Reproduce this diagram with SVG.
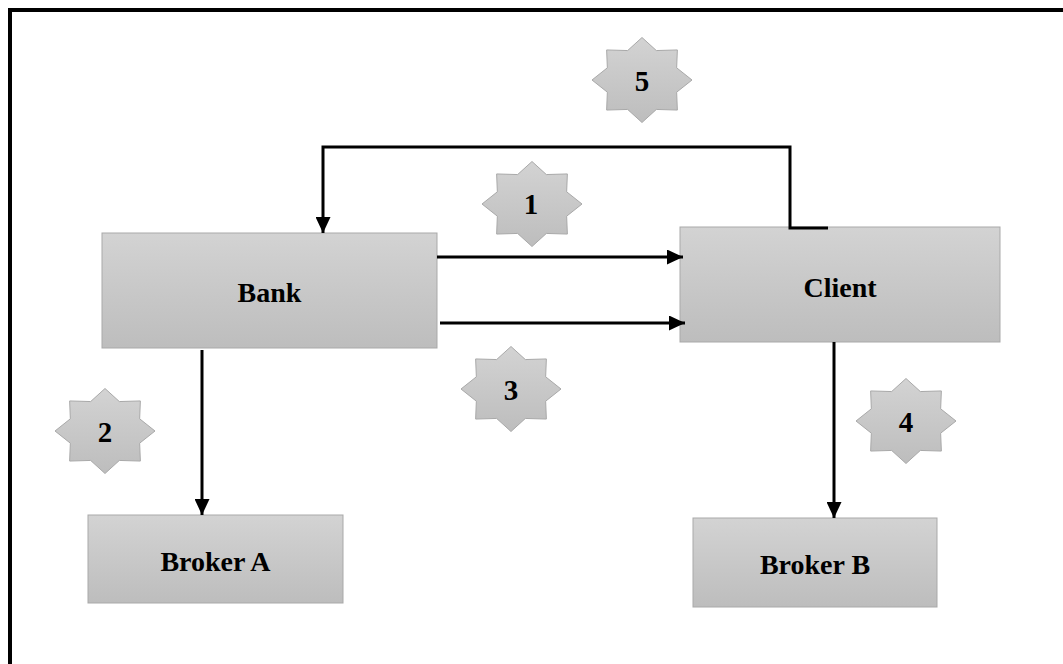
<svg xmlns="http://www.w3.org/2000/svg" xmlns:xlink="http://www.w3.org/1999/xlink" width="1063" height="664" viewBox="0 0 1063 664">
  <style>
    .box { fill: url(#grey); stroke: #a9a9a9; stroke-width: 1; }
    .star { fill: url(#grey); stroke: #a9a9a9; stroke-width: 1; }
    .label { font-family: "Liberation Serif", "Times New Roman", serif; font-weight: bold; font-size: 28px; fill: #000; text-anchor: middle; }
    .num { font-family: "Liberation Serif", "Times New Roman", serif; font-weight: bold; font-size: 29px; fill: #000; text-anchor: middle; }
    .wire { fill: none; stroke: #000; stroke-width: 3; }
    .frame { fill: none; stroke: #000; stroke-width: 4; }
  </style>
  <defs>
    <linearGradient id="grey" x1="0" y1="0" x2="0" y2="1">
      <stop offset="0" stop-color="#d3d3d3"/>
      <stop offset="1" stop-color="#bdbdbd"/>
    </linearGradient>
    <marker id="arrow" markerUnits="userSpaceOnUse" markerWidth="17" markerHeight="15" refX="16" refY="7.5" orient="auto">
      <path d="M0,0 L16,7.5 L0,15 z" fill="#000"/>
    </marker>
    <!-- eight-point star centred on the origin -->
    <path id="star8" d="M0,-42.5 L14.35,-29.45 L35.36,-30.05 L34.65,-12.2 L50,0 L34.65,12.2 L35.36,30.05 L14.35,29.45 L0,42.5 L-14.35,29.45 L-35.36,30.05 L-34.65,12.2 L-50,0 L-34.65,-12.2 L-35.36,-30.05 L-14.35,-29.45 Z"/>
  </defs>

  <rect width="1063" height="664" fill="#fff"/>

  <!-- page frame -->
  <path class="frame" d="M10,664 L10,10 L1063,10"/>

  <!-- nodes -->
  <g id="bank">
    <rect class="box" x="102" y="233" width="335" height="115"/>
    <text class="label" x="269.5" y="302">Bank</text>
  </g>
  <g id="client">
    <rect class="box" x="680" y="227" width="320" height="115"/>
    <text class="label" x="840" y="297">Client</text>
  </g>
  <g id="broker-a">
    <rect class="box" x="88" y="515" width="255" height="88"/>
    <text class="label" x="215.5" y="571">Broker A</text>
  </g>
  <g id="broker-b">
    <rect class="box" x="693" y="518" width="244" height="89"/>
    <text class="label" x="815" y="574">Broker B</text>
  </g>

  <!-- step badges -->
  <g id="step-1">
    <use href="#star8" xlink:href="#star8" class="star" transform="translate(532,204)"/>
    <text class="num" x="531" y="214">1</text>
  </g>
  <g id="step-2">
    <use href="#star8" xlink:href="#star8" class="star" transform="translate(105,431)"/>
    <text class="num" x="105" y="442">2</text>
  </g>
  <g id="step-3">
    <use href="#star8" xlink:href="#star8" class="star" transform="translate(511,389)"/>
    <text class="num" x="511" y="400">3</text>
  </g>
  <g id="step-4">
    <use href="#star8" xlink:href="#star8" class="star" transform="translate(906,421)"/>
    <text class="num" x="906" y="432">4</text>
  </g>
  <g id="step-5">
    <use href="#star8" xlink:href="#star8" class="star" transform="translate(642,80)"/>
    <text class="num" x="642" y="91">5</text>
  </g>

  <!-- connectors, drawn over the boxes -->
  <g id="connectors">
    <line class="wire" x1="437" y1="257" x2="683" y2="257" marker-end="url(#arrow)"/>
    <line class="wire" x1="440" y1="323" x2="685" y2="323" marker-end="url(#arrow)"/>
    <polyline class="wire" points="828,228 790,228 790,147 323,147 323,233" marker-end="url(#arrow)"/>
    <line class="wire" x1="202" y1="350" x2="202" y2="515" marker-end="url(#arrow)"/>
    <line class="wire" x1="834" y1="342" x2="834" y2="518" marker-end="url(#arrow)"/>
  </g>
</svg>
